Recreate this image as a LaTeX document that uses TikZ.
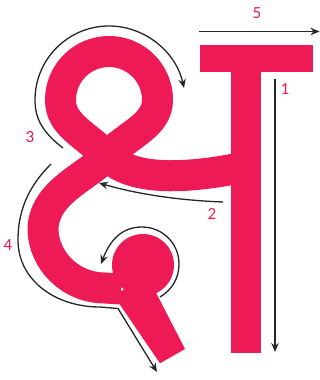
\documentclass[tikz,border=0pt]{standalone}
\usepackage{fontspec}
\setmainfont{Carlito}
\usetikzlibrary{arrows.meta}
\definecolor{pinkred}{HTML}{EE1A55}
\begin{document}
\begin{tikzpicture}[x=1pt,y=-1pt,
  ink/.style={line width=31pt, draw=pinkred, line join=round},
  guide/.style={line width=1.3pt, draw=black!85, -{Stealth[length=9pt,width=7.5pt,inset=3pt]}},
  num/.style={text=pinkred, font=\fontsize{17}{17}\selectfont, inner sep=0pt}]
\useasboundingbox (0,0) rectangle (320,380);
% stem and head bar
\fill[pinkred] (231,72) rectangle (261,353);
\fill[pinkred] (200,45) rectangle (313,72);
% connector, loop and lower curve
\draw[ink] (245,167) .. controls (200,176) and (135,185) .. (107,156)
  .. controls (85,134) and (60.5,125) .. (60.5,100)
  .. controls (60.5,73.2) and (82.2,51.5) .. (109,51.5)
  .. controls (135.8,51.5) and (157.5,73.2) .. (157.5,100)
  .. controls (157.5,125) and (129,134) .. (107,156)
  .. controls (85,178) and (45,192) .. (43,228)
  .. controls (43,261) and (71,288) .. (105,288) -- (121,289);
% ball and tail
\fill[pinkred] (143,265) circle[radius=31pt];
\fill[pinkred] (112,293) -- (151,283) -- (185,349) -- (160,363.3) -- cycle;
% guide arrows
\coordinate (a5s) at (199,31.5); \coordinate (a5e) at (319.5,31.5);
\draw[guide] (a5s) -- (a5e);
\coordinate (a1s) at (275,79); \coordinate (a1e) at (275,352);
\draw[guide] (a1s) -- (a1e);
\coordinate (a2s) at (223,202); \coordinate (a2e) at (99,183);
\draw[guide] (a2s) .. controls (170,200) and (130,192) .. (a2e);
\coordinate (a3s) at (63,148); \coordinate (a3e) at (184,88);
\draw[guide] (a3s) .. controls (42,132) and (35,118) .. (35,100)
  .. controls (35,59.1) and (68.1,26) .. (109,26)
  .. controls (145,26) and (176,52) .. (a3e);
\coordinate (a4s) at (51,164); \coordinate (a4e) at (157,372);
\draw[guide] (a4s) .. controls (33,182) and (18,205) .. (18,240)
  .. controls (18,280) and (55,307) .. (100,307) -- (118,308.5) -- (a4e);
\coordinate (abs) at (160,297); \coordinate (abe) at (101,264);
\draw[guide] (abs) .. controls (172,290) and (179,278) .. (179,264)
  .. controls (179,243) and (162,227) .. (142,227)
  .. controls (122,227) and (110,240) .. (abe);
% numbers
\node[num] (n5) at (257,13) {5};
\node[num] (n1) at (285,89) {1};
\node[num] (n2) at (212,214) {2};
\node[num] (n3) at (30,137) {3};
\node[num] (n4) at (8,245) {4};
\end{tikzpicture}
\end{document}
